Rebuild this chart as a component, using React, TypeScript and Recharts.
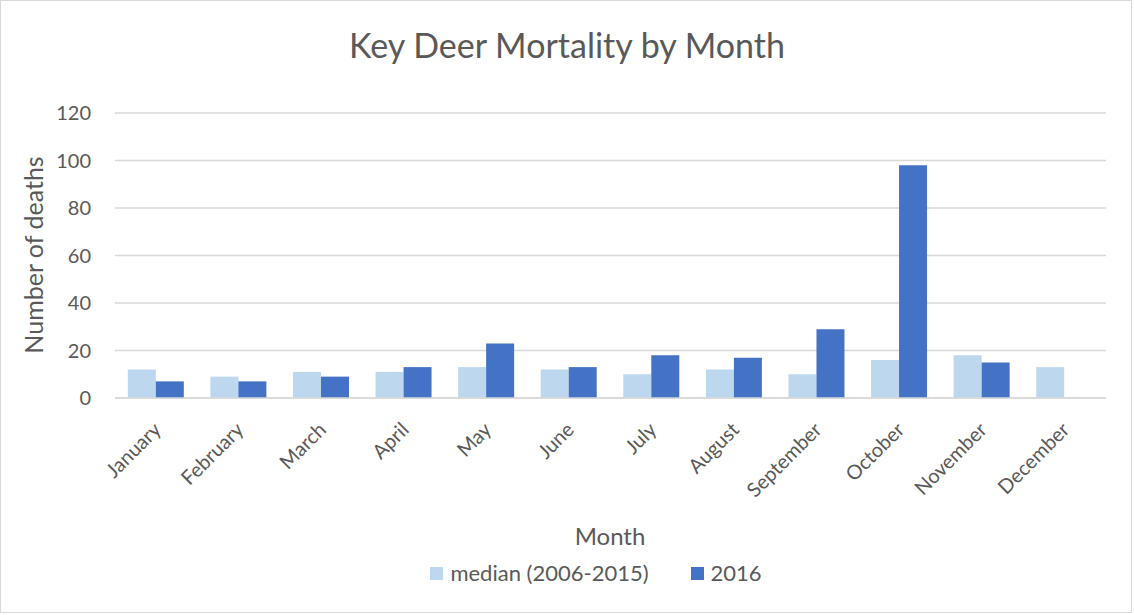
import { Bar, BarChart, CartesianGrid, XAxis, YAxis } from "recharts";

const months = [
  "January",
  "February",
  "March",
  "April",
  "May",
  "June",
  "July",
  "August",
  "September",
  "October",
  "November",
  "December",
];
const median = [12, 9, 11, 11, 13, 12, 10, 12, 10, 16, 18, 13];
const y2016: (number | null)[] = [7, 7, 9, 13, 23, 13, 18, 17, 29, 98, 15, null];
const yTicks = [0, 20, 40, 60, 80, 100, 120];

const data = months.map((m, i) => ({ month: m, median: median[i], y2016: y2016[i] }));

const FONT = "Lato, 'Open Sans', sans-serif";
const TEXT = "#595959";

const MonthTick = (props: any) => {
  const { x, y, payload } = props;
  const ex = x + 6;
  const ey = y + 25;
  return (
    <text
      x={ex}
      y={ey}
      transform={`rotate(-45, ${ex}, ${ey})`}
      textAnchor="end"
      fill={TEXT}
      fontSize={20}
      fontFamily={FONT}
    >
      {payload.value}
    </text>
  );
};

const App = () => {
  return (
    <div
      style={{
        position: "absolute",
        left: 0,
        top: 0,
        width: 1134,
        height: 615,
        background: "#fff",
        fontFamily: FONT,
        color: TEXT,
      }}
    >
      <div
        style={{
          position: "absolute",
          left: 0,
          top: 0,
          width: 1132,
          height: 613,
          boxSizing: "border-box",
          border: "1.5px solid #D9D9D9",
        }}
      />
      <div
        style={{
          position: "absolute",
          left: 0,
          width: 1134,
          top: 24,
          textAlign: "center",
          fontSize: 34,
          lineHeight: "42px",
        }}
      >
        Key Deer Mortality by Month
      </div>
      <div
        style={{
          position: "absolute",
          left: 33,
          top: 255,
          fontSize: 25,
          whiteSpace: "nowrap",
          transform: "translate(-50%, -50%) rotate(-90deg)",
        }}
      >
        Number of deaths
      </div>
      <div
        style={{
          position: "absolute",
          left: 610,
          top: 535,
          fontSize: 24,
          transform: "translate(-50%, -50%)",
        }}
      >
        Month
      </div>
      <div
        style={{
          position: "absolute",
          left: 0,
          width: 1192,
          top: 560,
          display: "flex",
          justifyContent: "center",
          alignItems: "center",
          fontSize: 22,
          lineHeight: "26px",
        }}
      >
        <span style={{ width: 13, height: 13, background: "#BDD7EE", marginRight: 7 }} />
        <span style={{ marginRight: 42 }}>median (2006-2015)</span>
        <span style={{ width: 13, height: 13, background: "#4472C4", marginRight: 7 }} />
        <span>2016</span>
      </div>
      <div style={{ position: "absolute", left: 0, top: 0 }}>
        <BarChart
          width={1134}
          height={615}
          data={data}
          margin={{ top: 113, right: 28, left: 0, bottom: 0 }}
          barCategoryGap="15.5%"
          barGap={0}
        >
          <CartesianGrid vertical={false} stroke="#D9D9D9" strokeWidth={1.5} />
          <XAxis
            dataKey="month"
            height={217}
            tickLine={false}
            axisLine={{ stroke: "#D9D9D9", strokeWidth: 1.5 }}
            tick={<MonthTick />}
            interval={0}
          />
          <YAxis
            width={115}
            domain={[0, 120]}
            ticks={yTicks}
            axisLine={false}
            tickLine={false}
            tickMargin={18}
            tick={{ fill: TEXT, fontSize: 20, fontFamily: FONT }}
          />
          <Bar dataKey="median" fill="#BDD7EE" isAnimationActive={false} />
          <Bar dataKey="y2016" fill="#4472C4" isAnimationActive={false} />
        </BarChart>
      </div>
    </div>
  );
};

export default App;
